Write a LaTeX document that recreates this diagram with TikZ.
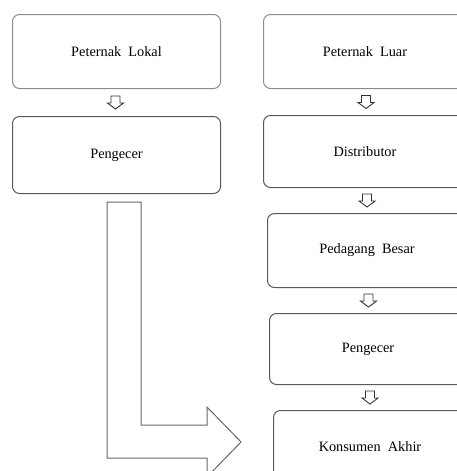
\documentclass[tikz,border=0pt]{standalone}
\usepackage{fontspec}
\setmainfont{Liberation Serif}
\begin{document}
\begin{tikzpicture}[x=1pt,y=-1pt,
  boxbase/.style={draw, rounded corners=7pt, anchor=north west, inner sep=0pt,
    line width=1pt, font=\fontsize{14.3}{16}\selectfont, align=center},
  lightbox/.style={boxbase, draw=black!45},
  darkbox/.style={boxbase, draw=black!65},
  downarr/.pic={\draw[black!80, line width=0.9pt, fill=white]
    (-4.5,-6.5) -- (4.5,-6.5) -- (4.5,0.5) -- (8,0.5) -- (0,6.5) -- (-8,0.5) -- (-4.5,0.5) -- cycle;}
]
\useasboundingbox (0,0) rectangle (457,471);
\clip (0,0) rectangle (457,471);
% left column
\node[lightbox, minimum width=208pt, minimum height=74pt] (lok) at (12,14) {Peternak\ \ Lokal};
\node[darkbox, minimum width=208pt, minimum height=77pt] (pl) at (12,116) {Pengecer};
% right column
\node[lightbox, minimum width=203pt, minimum height=74pt] (luar) at (263,14) {Peternak\ \ Luar};
\node[darkbox, minimum width=203pt, minimum height=72pt] (dist) at (263,115) {Distributor};
\node[darkbox, minimum width=199pt, minimum height=74pt] (pb) at (267,213) {Pedagang\ \ Besar};
\node[darkbox, minimum width=197pt, minimum height=71pt] (pr) at (269,313) {Pengecer};
\node[darkbox, minimum width=193pt, minimum height=72pt] (ka) at (273,410) {Konsumen\ \ Akhir};
% small arrows
\path (lok.south) -- (pl.north) coordinate[midway] (m0);
\path (luar.south) -- (dist.north) coordinate[midway] (m1);
\path (dist.south) -- (pb.north) coordinate[midway] (m2);
\path (pb.south) -- (pr.north) coordinate[midway] (m3);
\path (pr.south) -- (ka.north) coordinate[midway] (m4);
\pic at ([xshift=-1pt]m0) {downarr};
\pic at ([xshift=1pt]m1) {downarr};
\pic at ([xshift=1pt]m2) {downarr};
\pic at ([xshift=1pt]m3) {downarr};
\pic at ([xshift=1pt]m4) {downarr};
% big L arrow from left Pengecer to Konsumen Akhir
\coordinate (ls) at (107,202);
\draw[black!60, line width=1pt, fill=white]
  (ls) -- (141,202) -- (141,425) -- (207,425) -- (207,407) -- (241,442)
  -- (207,477) -- (207,458) -- (107,458) -- cycle;
\end{tikzpicture}
\end{document}
